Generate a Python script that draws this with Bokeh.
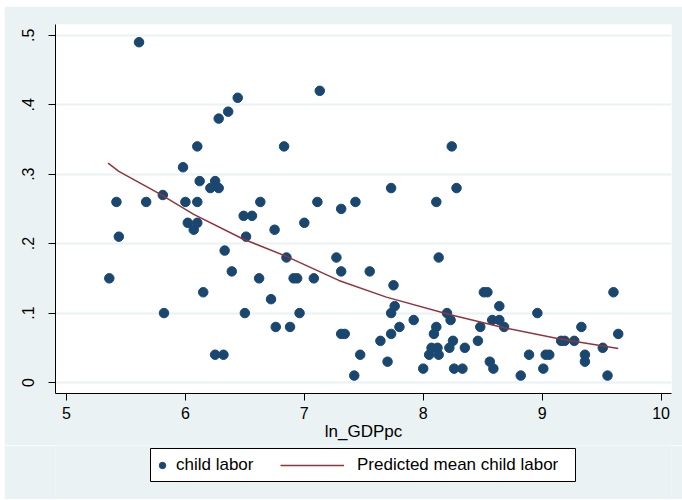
from bokeh.plotting import figure
from bokeh.layouts import column
from bokeh.models import Range1d, FixedTicker, Legend, LegendItem, BoxAnnotation
from bokeh.embed import file_html
from bokeh.resources import INLINE

# ---- data ----
ln_gdppc = [5.36, 5.42, 5.44, 5.61, 5.67, 5.81, 5.82, 5.98, 6.00, 6.02,
            6.07, 6.10, 6.10, 6.10, 6.12, 6.15, 6.21, 6.25, 6.28, 6.25,
            6.32, 6.28, 6.33, 6.36, 6.39, 6.44, 6.49, 6.50, 6.51, 6.56,
            6.62, 6.63, 6.72, 6.75, 6.76, 6.83, 6.85, 6.88, 6.91, 6.94,
            6.96, 7.00, 7.08, 7.11, 7.13, 7.27, 7.31, 7.31, 7.31, 7.34,
            7.42, 7.43, 7.47, 7.55, 7.64, 7.70, 7.73, 7.73, 7.73, 7.75,
            7.76, 7.80, 7.92, 8.00, 8.05, 8.07, 8.09, 8.11, 8.11, 8.12,
            8.13, 8.13, 8.20, 8.22, 8.23, 8.24, 8.25, 8.26, 8.28, 8.33,
            8.35, 8.46, 8.48, 8.51, 8.54, 8.56, 8.58, 8.59, 8.64, 8.64,
            8.68, 8.82, 8.89, 8.96, 9.01, 9.03, 9.06, 9.16, 9.19, 9.27,
            9.33, 9.36, 9.36, 9.51, 9.55, 9.60, 9.64]
child_labor = [0.15, 0.26, 0.21, 0.49, 0.26, 0.27, 0.10, 0.31, 0.26, 0.23,
               0.22, 0.26, 0.23, 0.34, 0.29, 0.13, 0.28, 0.29, 0.28, 0.04,
               0.04, 0.38, 0.19, 0.39, 0.16, 0.41, 0.24, 0.10, 0.21, 0.24,
               0.15, 0.26, 0.12, 0.22, 0.08, 0.34, 0.18, 0.08, 0.15, 0.15,
               0.10, 0.23, 0.15, 0.26, 0.42, 0.18, 0.25, 0.16, 0.07, 0.07,
               0.01, 0.26, 0.04, 0.16, 0.06, 0.03, 0.28, 0.10, 0.07, 0.14,
               0.11, 0.08, 0.09, 0.02, 0.04, 0.05, 0.07, 0.08, 0.26, 0.05,
               0.04, 0.18, 0.10, 0.05, 0.09, 0.34, 0.06, 0.02, 0.28, 0.02,
               0.05, 0.06, 0.08, 0.13, 0.13, 0.03, 0.09, 0.02, 0.11, 0.09,
               0.08, 0.01, 0.04, 0.10, 0.02, 0.04, 0.04, 0.06, 0.06, 0.06,
               0.08, 0.04, 0.03, 0.05, 0.01, 0.13, 0.07]

fit_x = [5.35, 5.44, 5.78, 6.07, 6.48, 6.83, 7.29, 7.69, 8.22, 8.68, 9.14, 9.64]
fit_y = [0.316, 0.304, 0.272, 0.242, 0.207, 0.183, 0.147, 0.123, 0.098, 0.079, 0.063, 0.049]

x_ticks = [5, 6, 7, 8, 9, 10]
y_ticks = [0, 0.1, 0.2, 0.3, 0.4, 0.5]
y_tick_labels = ["0", ".1", ".2", ".3", ".4", ".5"]
legend_labels = ["child labor", "Predicted mean child labor"]

BG = "#EAF2F3"
NAVY = "#1A476F"
MAROON = "#90353B"
FONT = "Liberation Sans"

# ---------------- main plot ----------------
p = figure(frame_width=616, frame_height=369,
           output_backend="svg", toolbar_location=None,
           x_range=Range1d(4.9075, 10.088), y_range=Range1d(-0.0158, 0.5155),
           min_border_left=51, min_border_right=11, min_border_top=18,
           min_border_bottom=52)
p.border_fill_color = BG
p.background_fill_color = "white"
p.outline_line_color = None

p.xgrid.visible = False
p.ygrid.ticker = FixedTicker(ticks=y_ticks)
p.ygrid.grid_line_color = BG
p.ygrid.grid_line_width = 2

for ax in (p.xaxis[0], p.yaxis[0]):
    ax.axis_line_color = "black"
    ax.major_tick_line_color = "black"
    ax.major_tick_out = 7
    ax.major_tick_in = 0
    ax.minor_tick_line_color = None
    ax.major_label_text_font = FONT
    ax.major_label_text_font_size = "16px"
    ax.major_label_text_color = "black"
    ax.axis_label_text_font = FONT
    ax.axis_label_text_font_size = "17px"
    ax.axis_label_text_font_style = "normal"
    ax.axis_label_text_color = "black"

p.xaxis.ticker = FixedTicker(ticks=x_ticks)
p.xaxis.axis_label = "ln_GDPpc"
p.xaxis.major_label_standoff = 6
p.xaxis.axis_label_standoff = 0

p.yaxis.ticker = FixedTicker(ticks=y_ticks)
p.yaxis.major_label_overrides = {t: l for t, l in zip(y_ticks, y_tick_labels)}
p.yaxis.major_label_orientation = "vertical"
p.yaxis.major_label_standoff = 14

p.scatter(ln_gdppc, child_labor, size=9.5, fill_color=NAVY, line_color=NAVY)
p.line(fit_x, fit_y, line_color=MAROON, line_width=1.5)

# ---------------- legend strip (frame aligned with the plot frame) ----------------
FL, FR = 55, 671   # page x of the aligned frame
lp = figure(width=678, height=54, output_backend="svg", toolbar_location=None,
            x_range=Range1d(FL, FR), y_range=Range1d(0, 54),
            x_axis_location=None, y_axis_location=None,
            min_border=0, min_border_left=0, min_border_right=0,
            min_border_top=0, min_border_bottom=0)
lp.border_fill_color = BG
lp.background_fill_color = BG
lp.outline_line_color = None
lp.grid.visible = False

lp.add_layout(BoxAnnotation(left=150, right=575, bottom=18, top=51,
                            fill_color="white", fill_alpha=1,
                            line_color="black", line_width=1, line_alpha=1))

# hidden copies of the two series: only their legend glyphs are shown
leg_pts = lp.scatter(ln_gdppc, child_labor, size=9.5, fill_color=NAVY,
                     line_color=NAVY, visible=False)
leg_line = lp.line(fit_x, fit_y, line_color=MAROON, line_width=1.5, visible=False)

def make_legend(label, renderer, gw, standoff, loc):
    lg = Legend(items=[LegendItem(label=label, renderers=[renderer])],
                orientation="horizontal", location=loc)
    lg.label_text_font = FONT
    lg.label_text_font_size = "17px"
    lg.label_text_color = "black"
    lg.border_line_color = None
    lg.background_fill_alpha = 0
    lg.glyph_width = gw
    lg.glyph_height = 20
    lg.label_standoff = standoff
    lg.padding = 0
    lg.margin = 0
    lg.spacing = 0
    lg.click_policy = "none"
    return lg

lp.add_layout(make_legend(legend_labels[0], leg_pts, 16, 6, (150 - FL + 4, 24)))
lp.add_layout(make_legend(legend_labels[1], leg_line, 64, 13, (280 - FL, 24)))

layout = column(p, lp, spacing=0)
layout.margin = (6, 0, 0, 4)

open("out.html", "w").write(file_html(layout, INLINE))
